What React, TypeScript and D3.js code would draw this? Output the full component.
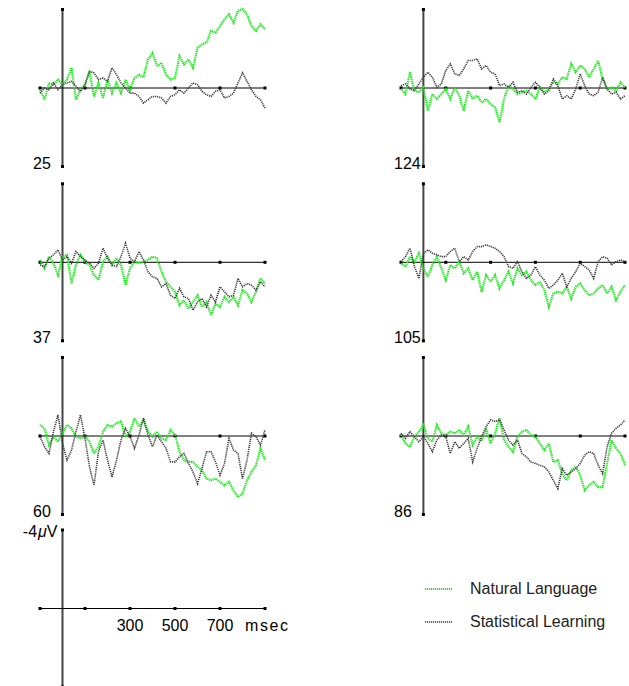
import React from "react";
import * as d3 from "d3";

// time axis: samples every 20 ms from -100 to 900 ms
const T0 = -100;
const STEP = 20;
const xTicks = [-100, 100, 300, 500, 700, 900];
const xTickLabels = ["300", "500", "700"];

const panelLabels = ["25", "37", "60", "124", "105", "86"];

// values in microvolts (positive = down, negative up)
const natural25 = [0.09,0.60,-0.26,-0.17,-0.43,-0.17,-0.43,-1.03,0.60,0.09,-0.17,-0.85,0.43,-0.26,0.51,-0.43,0.26,-0.26,0.26,-0.43,0.09,-0.51,-0.68,-0.56,-1.45,-1.79,-1.11,-1.28,-0.68,-0.43,-0.51,-1.62,-1.20,-1.45,-1.03,-2.05,-2.22,-2.31,-2.91,-2.82,-3.16,-3.50,-3.76,-3.33,-3.93,-4.02,-3.76,-3.16,-2.91,-3.25,-2.99];
const statistical25 = [0.26,0,0.09,-0.26,0.09,-0.17,-0.26,-0.34,-0.09,0.17,-0.17,-0.85,-0.77,-0.43,-0.51,-0.34,-1.03,-0.68,-0.26,0,0.26,0.26,0.43,0.77,0.60,0.43,0.43,0.51,0.77,0.43,0.34,0.09,0.26,0,-0.26,-0.17,0.17,0.34,0.43,0.17,0.09,0.51,0.43,0.26,-0.26,-0.77,-0.34,0.09,0.43,0.60,1.03];

const natural37 = [-0.12,0.31,-0.29,0.05,0.65,-0.29,-0.38,1.08,0.14,-0.38,-0.03,0.14,0.65,0.91,-0.03,-0.29,0.14,-0.21,0.14,1.16,0.31,-0.03,0.05,-0.03,-0.12,-0.29,-0.21,0.48,0.99,1.25,1.50,2.19,1.93,2.36,2.02,1.68,2.27,2.02,2.70,2.10,2.27,1.76,2.02,1.76,2.19,1.42,1.59,2.02,1.50,0.82,1.08];
const statistical37 = [0.14,0.22,-0.21,-0.38,-0.63,-0.12,-0.29,0.05,-0.55,-0.29,-0.12,0.05,0.31,0.05,-0.72,-0.21,0.14,0.22,-0.29,-0.97,-0.21,-0.03,-0.55,-0.12,0.48,0.74,0.82,1.25,1.08,1.68,1.85,1.33,1.76,1.85,2.44,2.02,1.85,2.27,1.68,2.02,1.25,1.50,1.76,1.68,0.82,1.25,1.08,1.16,1.42,0.99,1.25];

const natural60 = [-0.56,-0.39,0.46,0.03,0.29,-0.14,-0.56,-0.39,0.03,0.12,0.03,0.29,0.89,0.55,-0.22,-0.56,-0.48,-0.65,-0.74,0.03,-0.22,-0.91,-0.48,-0.82,-0.22,0.03,-0.22,0.12,0.21,-0.31,-0.05,0.80,1.23,1.32,1.32,1.57,1.74,2.17,2.26,2.17,2.34,2.51,2.34,2.77,3.11,2.94,2.26,1.83,1.49,0.63,1.23];
const statistical60 = [0.03,0.55,0.89,-0.22,-1.08,0.38,1.23,0.72,-0.22,-1.08,0.12,1.57,2.51,0.80,0.21,1.23,2.09,1.23,0.21,-0.39,0.03,0.63,-0.05,-0.91,-0.05,0.55,-0.05,0.29,0.63,1.32,1.32,1.06,0.89,1.40,1.83,2.43,1.66,0.80,0.80,1.32,2.00,1.40,0.12,0.72,0.89,2.17,1.23,-0.14,0.03,0.46,-0.31];

const natural124 = [0.05,0.31,-0.80,0.14,0.22,-0.03,1.16,0.31,0.56,0.31,0.05,0.56,-0.03,0.39,1.16,0.14,0.56,0.39,0.74,0.56,0.82,0.99,1.76,0.56,-0.12,0.05,0.31,0.22,0.14,0.31,0.56,-0.03,0.22,0.05,-0.29,-0.21,-0.55,-0.46,-1.23,-0.80,-1.15,-0.97,-0.55,-0.97,-1.40,-0.46,0.05,-0.03,0.14,-0.29,-0.03];
const statistical124 = [-0.12,-0.21,0.05,0.14,-0.21,-0.55,-0.80,-0.55,-0.03,-0.21,-0.89,-1.23,-0.72,-0.63,-0.97,-1.40,-1.40,-1.49,-0.97,-1.15,-0.80,-0.72,-0.12,-0.21,-0.03,-0.29,0.22,0.14,0.31,-0.03,-0.29,-0.03,0.31,0.14,-0.46,-0.12,0.56,0.39,0.56,0.05,-0.72,-0.12,0.31,0.39,0.22,-0.55,0.05,0.31,0.22,0.56,0.39];

const natural105 = [0.05,0.22,-0.29,-0.03,-0.46,0.31,0.74,0.14,-0.29,0.31,0.91,0.14,0.31,-0.03,0.56,0.31,0.91,0.48,1.50,0.65,0.99,0.65,1.33,0.91,0.48,1.08,0.31,0.65,0.48,0.91,1.16,0.99,1.42,2.27,1.59,1.50,1.59,1.25,1.85,1.25,1.08,1.42,1.68,1.59,1.33,1.16,1.59,1.25,1.93,1.50,1.16];
const statistical105 = [-0.03,-0.29,-0.72,0.22,0.82,-0.46,-0.63,-0.46,-0.38,-0.29,-0.29,-0.55,-0.72,-0.03,-0.29,-0.12,-0.55,-0.80,-0.80,-0.89,-0.80,-0.72,-0.55,-0.29,0.22,0.31,-0.03,0.48,0.82,0.65,0.22,0.65,0.91,1.33,1.16,0.91,0.56,1.25,0.82,0.48,0.05,0.22,0.39,0.82,-0.03,-0.29,-0.21,0.14,-0.03,-0.12,-0.03];

const natural86 = [-0.05,0.38,0.55,0.03,-0.22,-0.56,0.12,0.29,-0.56,-0.14,-0.05,-0.22,-0.14,-0.31,-0.05,-0.48,0.46,0.03,0.21,-0.31,0.38,-0.14,-0.91,0.21,0.55,0.80,0.03,-0.22,-0.31,-0.05,0.03,0.38,0.72,0.38,1.32,1.23,1.91,2.26,1.74,1.57,2.00,2.77,2.51,2.34,2.60,2.60,1.40,0.21,0.63,0.89,1.49];
const statistical86 = [-0.14,0.12,-0.22,0.03,0.29,0.03,0.38,0.80,0.21,-0.05,0.03,0.89,0.29,0.63,0.38,0.12,1.32,0.63,0.03,-0.48,-0.82,-0.74,-0.82,-0.31,0.21,0.46,0.21,0.89,1.06,1.32,1.40,1.49,1.57,1.83,2.26,2.68,1.66,2.00,1.83,1.66,1.40,0.97,0.80,0.89,1.49,1.91,0.55,-0.14,-0.39,-0.56,-0.82];

const seriesNames = ["Natural Language", "Statistical Learning"];
const seriesColors = ["#1ee81e", "#3a3a3a"];

type Panel = { label: string; nat: number[]; stat: number[]; col: number; row: number };
const panels: Panel[] = [
  { label: panelLabels[0], nat: natural25, stat: statistical25, col: 0, row: 0 },
  { label: panelLabels[1], nat: natural37, stat: statistical37, col: 0, row: 1 },
  { label: panelLabels[2], nat: natural60, stat: statistical60, col: 0, row: 2 },
  { label: panelLabels[3], nat: natural124, stat: statistical124, col: 1, row: 0 },
  { label: panelLabels[4], nat: natural105, stat: statistical105, col: 1, row: 1 },
  { label: panelLabels[5], nat: natural86, stat: statistical86, col: 1, row: 2 },
];

const W = 629;
const H = 686;
const colX = [[40, 265], [401, 625]];
const rowY = [88, 262.3, 436, 608.5];
const HALF = 78.5;
const FONT = "'Liberation Sans', Arial, Helvetica, sans-serif";

function Axes({ col, cy }: { col: number; cy: number }) {
  const x = d3.scaleLinear().domain([-100, 900]).range(colX[col]);
  const x0 = x(0);
  return (
    <g>
      <line x1={x0} x2={x0} y1={cy - HALF} y2={cy + HALF} stroke="#444" strokeWidth={2} />
      <rect x={x0 - 1.5} y={cy - HALF - 1.5} width={3} height={3} fill="#000" />
      <rect x={x0 - 1.5} y={cy + HALF - 1.5} width={3} height={3} fill="#000" />
      <line x1={x(-100)} x2={x(900)} y1={cy} y2={cy} stroke="#000" strokeWidth={1} />
      {xTicks.map((t) => (
        <rect key={t} x={x(t) - 1.5} y={cy - 1.5} width={3} height={3} fill="#000" />
      ))}
    </g>
  );
}

function PanelView({ p }: { p: Panel }) {
  const cy = rowY[p.row];
  const x = d3.scaleLinear().domain([-100, 900]).range(colX[p.col]);
  const y = d3.scaleLinear().domain([-4, 4]).range([cy - HALF, cy + HALF]);
  const line = d3
    .line<number>()
    .x((_, i) => x(T0 + i * STEP))
    .y((v) => y(v));
  return (
    <g>
      <Axes col={p.col} cy={cy} />
      <path d={line(p.nat) || ""} fill="none" stroke={seriesColors[0]} strokeWidth={2.2} strokeDasharray="1.2,0.7" />
      <path d={line(p.stat) || ""} fill="none" stroke={seriesColors[1]} strokeWidth={1.6} strokeDasharray="1.2,0.9" />
      <text x={colX[p.col][0] - 7} y={cy + HALF + 2} fontSize={16} fontFamily={FONT} fill="#000">
        {p.label}
      </text>
    </g>
  );
}

export default function App() {
  const cy = rowY[3];
  const x = d3.scaleLinear().domain([-100, 900]).range(colX[0]);
  return (
    <svg width={W} height={H} style={{ position: "absolute", left: 0, top: 0, background: "#fff" }}>
      {panels.map((p) => (
        <PanelView key={p.label} p={p} />
      ))}
      <Axes col={0} cy={cy} />
      <text x={x(0) - 5} y={cy - HALF + 7} fontSize={16} fontFamily={FONT} textAnchor="end" fill="#000">
        -4<tspan fontStyle="italic" dx={1}>μ</tspan>V
      </text>
      {xTickLabels.map((l) => (
        <text key={l} x={x(+l)} y={cy + 22} fontSize={16} fontFamily={FONT} textAnchor="middle" fill="#000">
          {l}
        </text>
      ))}
      <text x={x(900) - 20} y={cy + 22} fontSize={16} fontFamily={FONT} fill="#000" letterSpacing={1.6}>
        msec
      </text>
      {seriesNames.map((n, i) => (
        <g key={n}>
          <line x1={425} x2={452} y1={589 + i * 33} y2={589 + i * 33} stroke={seriesColors[i]} strokeWidth={i === 0 ? 2.2 : 1.6} strokeDasharray="1.2,0.8" />
          <text x={470} y={594 + i * 33} fontSize={16} fontFamily={FONT} fill="#222">
            {n}
          </text>
        </g>
      ))}
    </svg>
  );
}
